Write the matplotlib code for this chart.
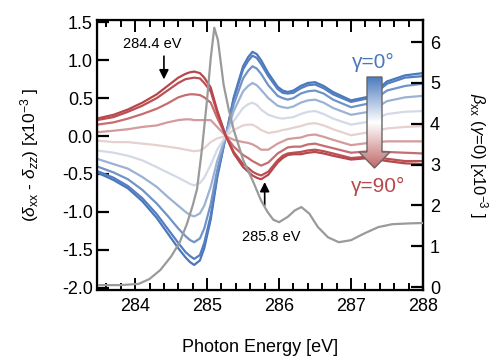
import numpy as np
import matplotlib
matplotlib.use("Agg")
import matplotlib.pyplot as plt
from matplotlib.colors import LinearSegmentedColormap
from matplotlib.patches import Polygon
from matplotlib.ticker import MultipleLocator, FormatStrFormatter

plt.rcParams['font.family'] = ['Liberation Sans', 'DejaVu Sans']
plt.rcParams['mathtext.fontset'] = 'custom'
plt.rcParams['mathtext.rm'] = 'Liberation Sans'
plt.rcParams['mathtext.it'] = 'Liberation Sans:italic'

# photon energy grid [eV] for the delta curves
energy = [283.47, 283.70, 283.90, 284.10, 284.30, 284.45, 284.60, 284.70, 284.76, 284.82,
          284.90, 284.96, 285.05, 285.14, 285.26, 285.37, 285.50, 285.57, 285.63, 285.69,
          285.75, 285.85, 285.98, 286.05, 286.12, 286.20, 286.30, 286.40, 286.50, 286.62,
          286.75, 287.00, 287.25, 287.50, 287.75, 288.00]

gamma_deg = [0, 10, 20, 30, 40, 50, 60, 70, 80, 90]

# (delta_xx - delta_zz) x1e-3, one list per polarisation angle gamma
delta_g00 = [-0.48, -0.58, -0.69, -0.86, -1.08, -1.28, -1.48, -1.60, -1.66, -1.70, -1.64, -1.48, -1.10, -0.55, 0.00, 0.51, 0.92, 1.04,
             1.11, 1.08, 1.00, 0.83, 0.65, 0.60, 0.58, 0.60, 0.66, 0.70, 0.71, 0.66, 0.58, 0.47, 0.52, 0.72, 0.80, 0.83]
delta_g10 = [-0.46, -0.55, -0.66, -0.82, -1.03, -1.22, -1.41, -1.53, -1.58, -1.62, -1.57, -1.41, -1.05, -0.52, 0.00, 0.49, 0.88, 0.99,
             1.06, 1.03, 0.95, 0.79, 0.62, 0.57, 0.56, 0.57, 0.63, 0.67, 0.68, 0.63, 0.55, 0.45, 0.50, 0.69, 0.77, 0.79]
delta_g20 = [-0.40, -0.48, -0.57, -0.71, -0.89, -1.05, -1.22, -1.32, -1.37, -1.40, -1.35, -1.22, -0.90, -0.45, 0.00, 0.42, 0.76, 0.86,
             0.92, 0.89, 0.82, 0.67, 0.53, 0.50, 0.48, 0.50, 0.56, 0.59, 0.60, 0.56, 0.48, 0.38, 0.43, 0.60, 0.66, 0.69]
delta_g30 = [-0.30, -0.37, -0.43, -0.54, -0.67, -0.80, -0.92, -1.00, -1.04, -1.06, -1.02, -0.92, -0.67, -0.33, 0.00, 0.33, 0.59, 0.66,
             0.70, 0.67, 0.61, 0.50, 0.40, 0.38, 0.37, 0.39, 0.44, 0.47, 0.48, 0.44, 0.37, 0.28, 0.32, 0.46, 0.51, 0.53]
delta_g40 = [-0.19, -0.22, -0.26, -0.32, -0.41, -0.48, -0.55, -0.60, -0.63, -0.65, -0.62, -0.55, -0.38, -0.18, 0.00, 0.20, 0.37, 0.42,
             0.44, 0.41, 0.35, 0.28, 0.24, 0.23, 0.24, 0.25, 0.29, 0.32, 0.33, 0.29, 0.23, 0.15, 0.19, 0.29, 0.32, 0.33]
delta_g50 = [-0.06, -0.08, -0.08, -0.10, -0.12, -0.14, -0.16, -0.18, -0.19, -0.20, -0.19, -0.16, -0.08, -0.03, 0.00, 0.08, 0.14, 0.15,
             0.15, 0.12, 0.08, 0.04, 0.06, 0.08, 0.09, 0.11, 0.13, 0.16, 0.17, 0.14, 0.09, 0.01, 0.05, 0.10, 0.12, 0.13]
delta_g60 = [0.05, 0.07, 0.09, 0.12, 0.14, 0.18, 0.21, 0.22, 0.22, 0.21, 0.21, 0.21, 0.21, 0.12, 0.00, -0.05, -0.08, -0.09,
             -0.11, -0.14, -0.18, -0.18, -0.10, -0.07, -0.04, -0.03, -0.02, 0.01, 0.02, -0.01, -0.05, -0.12, -0.09, -0.07, -0.07, -0.07]
delta_g70 = [0.15, 0.18, 0.23, 0.29, 0.36, 0.43, 0.51, 0.54, 0.55, 0.55, 0.54, 0.51, 0.44, 0.24, 0.00, -0.14, -0.25, -0.29,
             -0.33, -0.36, -0.39, -0.35, -0.23, -0.19, -0.15, -0.14, -0.14, -0.11, -0.10, -0.13, -0.16, -0.22, -0.20, -0.21, -0.22, -0.23]
delta_g80 = [0.21, 0.25, 0.32, 0.40, 0.50, 0.60, 0.70, 0.75, 0.76, 0.77, 0.76, 0.70, 0.59, 0.31, 0.00, -0.21, -0.37, -0.42,
             -0.47, -0.50, -0.52, -0.47, -0.32, -0.26, -0.23, -0.22, -0.21, -0.19, -0.18, -0.20, -0.23, -0.29, -0.27, -0.30, -0.33, -0.33]
delta_g90 = [0.23, 0.28, 0.35, 0.44, 0.55, 0.66, 0.77, 0.82, 0.84, 0.85, 0.83, 0.77, 0.64, 0.34, 0.00, -0.23, -0.41, -0.47,
             -0.52, -0.55, -0.57, -0.51, -0.35, -0.29, -0.25, -0.24, -0.24, -0.22, -0.21, -0.23, -0.26, -0.31, -0.29, -0.33, -0.36, -0.37]

# beta_xx (gamma=0) x1e-3, right axis
energy_beta = [283.50, 283.80, 284.05, 284.20, 284.35, 284.50, 284.62, 284.72, 284.80, 284.86,
               284.93, 285.00, 285.05, 285.10, 285.15, 285.23, 285.30, 285.37, 285.50, 285.65,
               285.75, 285.84, 285.92, 286.00, 286.12, 286.22, 286.31, 286.42, 286.54, 286.68,
               286.83, 287.00, 287.19, 287.38, 287.57, 287.80, 288.00]
beta_xx = [0.05, 0.05, 0.08, 0.20, 0.42, 0.75, 1.10, 1.55, 2.00, 2.40,
           3.40, 4.60, 5.60, 6.35, 6.05, 4.95, 4.35, 3.85, 3.12, 2.54,
           2.12, 1.84, 1.65, 1.59, 1.72, 1.88, 1.96, 1.80, 1.47, 1.22,
           1.10, 1.15, 1.32, 1.47, 1.54, 1.56, 1.57]

curves = [delta_g00, delta_g10, delta_g20, delta_g30, delta_g40,
          delta_g50, delta_g60, delta_g70, delta_g80, delta_g90]

blue = '#4a78bd'
red = '#b8474b'
cmap = LinearSegmentedColormap.from_list('pol', [red, '#f0eeee', blue])

fig = plt.figure(figsize=(4.95, 3.6), dpi=100)
ax = fig.add_axes([97 / 495, 1 - 290 / 360, 326 / 495, 270 / 360])

for g, c in zip(gamma_deg, curves):
    w = np.cos(np.radians(g)) ** 2
    ax.plot(energy, c, color=cmap(w), lw=1.6, solid_joinstyle='round', zorder=2)

ax.set_xlim(283.47, 288.0)
ax.set_ylim(-2.03, 1.53)
ax.xaxis.set_major_locator(MultipleLocator(1))
ax.xaxis.set_minor_locator(MultipleLocator(0.2))
ax.yaxis.set_major_locator(MultipleLocator(0.5))
ax.yaxis.set_major_formatter(FormatStrFormatter('%.1f'))
ax.tick_params(axis='x', which='both', direction='in', top=True, bottom=True, width=1.4, labelsize=13, pad=6)
ax.tick_params(axis='x', which='major', length=8.5)
ax.tick_params(axis='x', which='minor', length=5)
ax.tick_params(axis='y', which='major', direction='in', length=8.5, width=1.6, labelsize=13, pad=3)
for s in ax.spines.values():
    s.set_linewidth(1.6)

ax.set_xlabel('Photon Energy [eV]', fontsize=13, labelpad=17)
ax.set_ylabel(r'($\delta_{\mathrm{xx}}$ - $\delta_{zz}$) [x10$^{-3}$ ]', fontsize=12.5, labelpad=15)

ax2 = ax.twinx()
ax2.plot(energy_beta, beta_xx, color='#9a9a9a', lw=1.6, zorder=3)
ax2.set_ylim(-0.07, 6.54)
ax2.yaxis.set_major_locator(MultipleLocator(1))
ax2.tick_params(axis='y', direction='in', length=8.5, width=1.6, labelsize=13, pad=5)
ax2.spines['right'].set_linewidth(1.6)
ax2.set_ylabel(r'$\beta_{\mathrm{xx}}$ ($\gamma$=0) [x10$^{-3}$ ]', fontsize=12, rotation=270, labelpad=36)

# annotations
ax.annotate('', xy=(284.4, 0.71), xytext=(284.4, 1.09),
            arrowprops=dict(arrowstyle='-|>', color='k', lw=1.2, mutation_scale=14))
ax.text(284.24, 1.21, '284.4 eV', fontsize=10.5, ha='center', va='center')
ax.annotate('', xy=(285.8, -0.57), xytext=(285.8, -0.95),
            arrowprops=dict(arrowstyle='-|>', color='k', lw=1.2, mutation_scale=14))
ax.text(285.89, -1.33, '285.8 eV', fontsize=10.5, ha='center', va='center')
ax.text(287.31, 0.97, 'γ=0°', color=blue, fontsize=15, ha='center', va='center')
ax.text(287.37, -0.66, 'γ=90°', color=red, fontsize=15, ha='center', va='center')

# big gradient arrow, drawn in figure pixel coordinates
ov = fig.add_axes([0, 0, 1, 1], zorder=5)
ov.axis('off')
ov.patch.set_alpha(0)
pts = [(367, 77), (382, 77), (382, 152), (390, 152), (374.5, 168), (359, 152), (367, 152)]
poly = Polygon(pts, closed=True, facecolor='none', edgecolor='#666666', lw=1.0, zorder=6)
ov.add_patch(poly)
grad_cmap = LinearSegmentedColormap.from_list('arr', ['#4d7dc0', '#ffffff', '#c26868'])
grad = np.linspace(0, 1, 200).reshape(-1, 1)
im = ov.imshow(grad, extent=[355, 395, 168, 77], origin='upper', cmap=grad_cmap,
               aspect='auto', zorder=5, interpolation='bilinear')
im.set_clip_path(poly)
ov.set_xlim(0, 495)
ov.set_ylim(360, 0)

fig.savefig('out.png', dpi=100)
